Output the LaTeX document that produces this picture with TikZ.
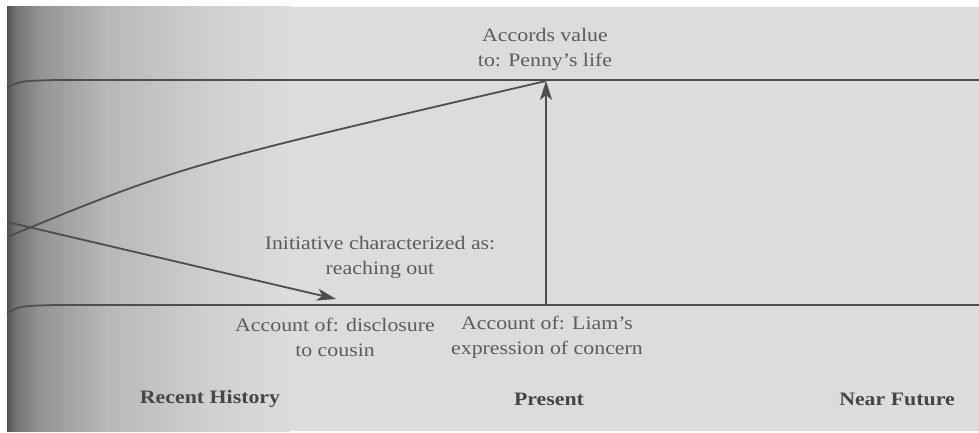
\documentclass[tikz,border=0pt]{standalone}
\usepackage{fontspec}
\setmainfont{Liberation Serif}[FakeStretch=1.15]
\usetikzlibrary{arrows.meta}
\definecolor{paper}{HTML}{DCDCDC}
\definecolor{inkline}{HTML}{4E4E4E}
\definecolor{inktext}{HTML}{5C5C5C}
\definecolor{inkhead}{HTML}{464646}
% shadow of the binding, darkest at the gutter
% (a shaded path is mapped onto the 25bp--75bp band of the shading)
\pgfdeclarehorizontalshading{spine}{100bp}{%
  color(0bp)=(black!68!white);
  color(25bp)=(black!68!white);
  color(26.5bp)=(black!55!white);
  color(31bp)=(black!42!white);
  color(42.5bp)=(black!28!white);
  color(60bp)=(black!19!white);
  color(75bp)=(paper);
  color(100bp)=(paper)}
\begin{document}
\begin{tikzpicture}[x=1pt,y=-1pt,
  line/.style={draw=inkline, line width=1.8pt},
  arr/.style={line, -{Stealth[length=19pt,width=12pt,inset=5pt]}},
  lbl/.style={text=inktext, font=\fontsize{19}{25}\selectfont, align=center, inner sep=0pt},
  head/.style={text=inkhead, font=\fontsize{19}{25}\selectfont\bfseries, inner sep=0pt}]
\useasboundingbox (0,0) rectangle (979,433);
% page and the shadow along the binding
\fill[white] (0,0) rectangle (979,433);
\fill[paper] (7,7) rectangle (979,431);
\shade[shading=spine] (7,7) rectangle (290,431);

% time bands
\coordinate (topL) at (7,88);
\coordinate (topR) at (979,80);
\coordinate (botL) at (7,313);
\coordinate (botR) at (979,305);
\draw[line] (topL) .. controls (20,81) .. (55,80) -- (topR);
\draw[line] (botL) .. controls (20,306) .. (55,305) -- (botR);

% anchor points of the arrows
\coordinate (srcUp) at (7,237);
\coordinate (srcDown) at (7,222);
\coordinate (value) at (546,81);
\coordinate (discl) at (336,299);
\coordinate (liamPt) at (546,305);

\draw[line] (srcUp) .. controls (180,166) .. (value);
\draw[arr] (srcDown) -- (discl);
\draw[arr] (liamPt) -- (value);

% labels
\node[lbl] (accords) at (545,49) {Accords value\\to: Penny's life};
\node[lbl] (initiative) at (380,257) {Initiative characterized as:\\reaching out};
\node[lbl] (disclosure) at (335,337) {Account of: disclosure\\to cousin};
\node[lbl] (liam) at (547,337) {Account of: Liam's\\expression of concern};

\node[head] (recent) at (210,399) {Recent History};
\node[head] (present) at (549,399) {Present};
\node[head] (future) at (897,399) {Near Future};
\end{tikzpicture}
\end{document}
